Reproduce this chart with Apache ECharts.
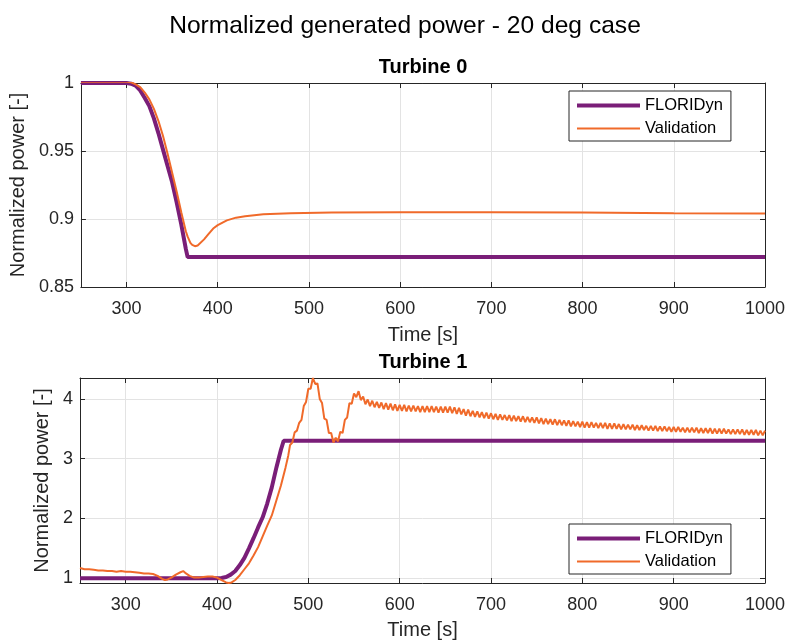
<!DOCTYPE html>
<html>
<head>
<meta charset="utf-8">
<script src="https://cdn.jsdelivr.net/npm/echarts@6/dist/echarts.min.js"></script>
<style>
html,body{margin:0;padding:0;background:#fff;}
#chart{width:790px;height:643px;}
</style>
</head>
<body>
<div id="chart"></div>
<script>
// ---- Data ----
const timeTop = [250, 300, 305, 310, 315, 320, 325, 330, 335, 340, 345, 350, 355, 360, 365, 367, 370, 372, 375, 378, 380, 385, 390, 395, 400, 410, 420, 430, 450, 480, 525, 600, 700, 800, 900, 1000];
const floridynTop = [1.0, 1.0, 0.9995, 0.998, 0.9945, 0.989, 0.983, 0.974, 0.963, 0.951, 0.939, 0.927, 0.912, 0.896, 0.878, 0.872, 0.872, 0.872, 0.872, 0.872, 0.872, 0.872, 0.872, 0.872, 0.872, 0.872, 0.872, 0.872, 0.872, 0.872, 0.872, 0.872, 0.872, 0.872, 0.872, 0.872];
const validationTop = [1.001, 1.001, 1.0005, 0.999, 0.997, 0.993, 0.988, 0.981, 0.972, 0.961, 0.948, 0.934, 0.920, 0.905, 0.891, 0.887, 0.8825, 0.881, 0.880, 0.8805, 0.8815, 0.885, 0.889, 0.893, 0.8955, 0.899, 0.901, 0.902, 0.9035, 0.9043, 0.9048, 0.905, 0.905, 0.9047, 0.9043, 0.904];

const timeBottomFloridyn = [250, 400, 405, 410, 415, 420, 425, 430, 435, 440, 445, 450, 455, 460, 465, 470, 473, 1000];
const floridynBottom = [1.0, 1.0, 1.005, 1.02, 1.06, 1.12, 1.22, 1.34, 1.50, 1.67, 1.85, 2.02, 2.25, 2.52, 2.85, 3.15, 3.3, 3.3];

const timeBottomValidationHead = [250, 255, 260, 265, 270, 275, 280, 285, 290, 295, 300, 305, 310, 315, 320, 325, 330, 335, 340, 343, 346, 350, 355, 360, 363, 366, 370, 375, 380, 385, 390, 395, 400, 405, 410, 413, 416, 420, 425, 430, 435, 440, 445, 450, 455, 460, 465, 470, 475, 478];
const validationBottomHead = [1.17, 1.15, 1.15, 1.14, 1.13, 1.13, 1.12, 1.12, 1.11, 1.12, 1.11, 1.11, 1.10, 1.09, 1.08, 1.08, 1.07, 1.04, 0.99, 0.97, 0.98, 1.01, 1.06, 1.10, 1.12, 1.08, 1.04, 1.01, 1.01, 1.02, 1.03, 1.03, 1.01, 0.97, 0.93, 0.92, 0.93, 0.97, 1.05, 1.15, 1.25, 1.38, 1.52, 1.70, 1.88, 2.05, 2.30, 2.55, 2.85, 3.05];

// sampled every 2.5 s from 480 s to 1000 s
const validationBottomTailStart = 480;
const validationBottomTailStep = 2.5;
const validationBottomTail = [
  3.23,3.27,3.44,3.47,3.60,3.65,3.88,3.95,
  4.17,4.17,4.35,4.25,4.26,4.00,3.93,3.67,
  3.65,3.43,3.43,3.27,3.35,3.29,3.45,3.43,
  3.65,3.69,3.93,3.92,4.09,4.03,4.13,3.98,
  4.04,3.91,3.99,3.88,3.97,3.86,3.95,3.85,
  3.94,3.83,3.93,3.82,3.92,3.81,3.91,3.80,
  3.90,3.80,3.90,3.79,3.89,3.79,3.89,3.79,
  3.88,3.78,3.88,3.78,3.88,3.78,3.88,3.78,
  3.87,3.77,3.87,3.77,3.87,3.77,3.87,3.76,
  3.86,3.75,3.85,3.74,3.83,3.72,3.82,3.71,
  3.80,3.70,3.79,3.69,3.78,3.68,3.77,3.67,
  3.76,3.66,3.75,3.65,3.74,3.65,3.73,3.64,
  3.73,3.63,3.72,3.63,3.71,3.62,3.71,3.61,
  3.70,3.61,3.69,3.60,3.69,3.59,3.68,3.58,
  3.67,3.58,3.66,3.57,3.66,3.56,3.65,3.56,
  3.64,3.55,3.64,3.54,3.63,3.54,3.62,3.53,
  3.62,3.52,3.61,3.52,3.61,3.52,3.60,3.51,
  3.60,3.51,3.60,3.50,3.59,3.50,3.59,3.50,
  3.58,3.49,3.58,3.49,3.57,3.49,3.57,3.48,
  3.56,3.48,3.56,3.48,3.55,3.47,3.55,3.47,
  3.55,3.46,3.54,3.46,3.54,3.46,3.53,3.45,
  3.53,3.45,3.53,3.45,3.52,3.44,3.52,3.44,
  3.52,3.44,3.52,3.43,3.51,3.43,3.51,3.43,
  3.51,3.42,3.50,3.42,3.50,3.42,3.50,3.42,
  3.49,3.41,3.49,3.41,3.49,3.41,3.49,3.40,
  3.48,3.40,3.48,3.40,3.48,3.39,3.47,3.39,
  3.47
];

const seriesNames = ['FLORIDyn', 'Validation'];
const mainTitle = 'Normalized generated power - 20 deg case';
const subTitles = ['Turbine 0', 'Turbine 1'];
const xName = 'Time [s]';
const yName = 'Normalized power [-]';
const xRange = [250, 1000];
const yRangeTop = [0.85, 1];
const yRangeBottom = [0.92, 4.35];

// ---- Build ----
const zip = (t, v) => t.map((x, i) => [x, v[i]]);
const validationBottom = zip(timeBottomValidationHead, validationBottomHead).concat(
  validationBottomTail.map((v, i) => [validationBottomTailStart + i * validationBottomTailStep, v])
);

const FONT = '"Liberation Sans", Arial, Helvetica, sans-serif';
const INK = '#262626';
const PURPLE = '#7A1E78';
const ORANGE = '#F06A2A';
const GRIDC = '#e3e3e3';
const plainNum = v => String(Math.round(v * 1000) / 1000);

function mainX(gi, gap) {
  return {
    type: 'value', gridIndex: gi, position: 'bottom',
    min: xRange[0], max: xRange[1], splitNumber: 7,
    name: xName, nameLocation: 'middle', nameGap: gap,
    nameTextStyle: { fontFamily: FONT, fontSize: 20, color: INK },
    axisLine: { show: true, onZero: false, lineStyle: { color: INK, width: 1 } },
    axisTick: { show: true, inside: true, length: 5, lineStyle: { color: INK } },
    axisLabel: { show: true, showMinLabel: false, margin: 13, formatter: plainNum, fontFamily: FONT, fontSize: 18, color: INK },
    splitLine: { show: true, lineStyle: { color: GRIDC, width: 1 } }
  };
}
function sideX(gi) {
  return {
    type: 'value', gridIndex: gi, position: 'top',
    min: xRange[0], max: xRange[1], splitNumber: 7,
    axisLine: { show: true, onZero: false, lineStyle: { color: INK, width: 1 } },
    axisTick: { show: true, inside: true, length: 5, lineStyle: { color: INK } },
    axisLabel: { show: false }, splitLine: { show: false }
  };
}
function mainY(gi, range, opts) {
  return Object.assign({
    type: 'value', gridIndex: gi, position: 'left',
    min: range[0], max: range[1],
    name: yName, nameLocation: 'middle',
    nameTextStyle: { fontFamily: FONT, fontSize: 20, color: INK },
    axisLine: { show: true, onZero: false, lineStyle: { color: INK, width: 1 } },
    axisTick: { show: true, inside: true, length: 5, lineStyle: { color: INK } },
    axisLabel: { show: true, margin: 7, formatter: plainNum, fontFamily: FONT, fontSize: 18, color: INK },
    splitLine: { show: true, lineStyle: { color: GRIDC, width: 1 } }
  }, opts);
}
function sideY(gi, range, opts) {
  return Object.assign({
    type: 'value', gridIndex: gi, position: 'right',
    min: range[0], max: range[1],
    axisLine: { show: true, onZero: false, lineStyle: { color: INK, width: 1 } },
    axisTick: { show: true, inside: true, length: 5, lineStyle: { color: INK } },
    axisLabel: { show: false }, splitLine: { show: false }
  }, opts);
}
function legendAt(top) {
  return {
    show: true, orient: 'vertical', left: 569, top: top,
    data: [
      { name: seriesNames[0], lineStyle: { width: 4, color: PURPLE } },
      { name: seriesNames[1], lineStyle: { width: 2, color: ORANGE } }
    ],
    selectedMode: false,
    backgroundColor: '#fff', borderColor: INK, borderWidth: 1, borderRadius: 0,
    padding: [6, 8, 4, 6], itemWidth: 63, itemHeight: 16, itemGap: 6,
    itemStyle: { opacity: 0, color: 'rgba(0,0,0,0)', borderWidth: 0 },
    textStyle: { fontFamily: FONT, fontSize: 16.5, color: '#000' }
  };
}
function line(name, data, xi, yi, color, width, z) {
  return {
    name: name, type: 'line', xAxisIndex: xi, yAxisIndex: yi, data: data,
    symbol: 'none', showSymbol: false, smooth: false, clip: true, z: z,
    color: color, lineStyle: { color: color, width: width }
  };
}

const chart = echarts.init(document.getElementById('chart'), null, { renderer: 'canvas' });
chart.setOption({
  animation: false,
  backgroundColor: '#fff',
  textStyle: { fontFamily: FONT },
  title: [
    { text: mainTitle, left: 405, textAlign: 'center', top: 14, padding: 0,
      textStyle: { fontFamily: FONT, fontSize: 24.6, fontWeight: 'normal', color: '#000' } },
    { text: subTitles[0], left: 423, textAlign: 'center', top: 57, padding: 0,
      textStyle: { fontFamily: FONT, fontSize: 20, fontWeight: 'bold', color: '#000' } },
    { text: subTitles[1], left: 423, textAlign: 'center', top: 352, padding: 0,
      textStyle: { fontFamily: FONT, fontSize: 20, fontWeight: 'bold', color: '#000' } }
  ],
  legend: [legendAt(91), legendAt(524)],
  grid: [
    { left: 80, top: 83, width: 685, height: 204, containLabel: false },
    { left: 80, top: 378, width: 685, height: 205, containLabel: false }
  ],
  xAxis: [mainX(0, 38), mainX(1, 37), sideX(0), sideX(1)],
  yAxis: [
    mainY(0, yRangeTop, { interval: 0.05, nameGap: 45 }),
    mainY(1, yRangeBottom, { splitNumber: 4, nameGap: 15, axisLabel: { show: true, showMinLabel: false, showMaxLabel: false, margin: 7, formatter: plainNum, fontFamily: FONT, fontSize: 18, color: INK } }),
    sideY(0, yRangeTop, { interval: 0.05 }),
    sideY(1, yRangeBottom, { splitNumber: 4 })
  ],
  series: [
    line(seriesNames[0], zip(timeTop, floridynTop), 0, 0, PURPLE, 4, 2),
    line(seriesNames[1], zip(timeTop, validationTop), 0, 0, ORANGE, 2, 3),
    line(seriesNames[0], zip(timeBottomFloridyn, floridynBottom), 1, 1, PURPLE, 4, 2),
    line(seriesNames[1], validationBottom, 1, 1, ORANGE, 2, 3)
  ]
});
</script>
</body>
</html>
